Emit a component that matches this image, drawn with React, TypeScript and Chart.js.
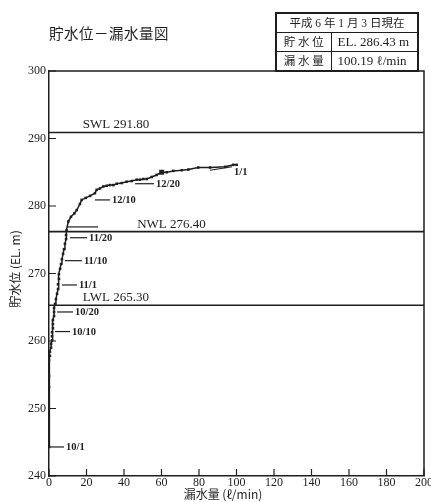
import React, { useEffect, useRef } from 'react';
import { Chart, registerables } from 'chart.js';
Chart.register(...registerables);

// ---- data ----
const leakage = [
  0, 0, 0, 0, 0.5, 0.5, 1.1, 1.1, 1.6, 1.6, 1.6, 2.1, 2.1, 2.1, 2.7, 2.7, 2.7, 3.2, 3.7, 4.3,
  4.8, 4.8, 5.3, 5.3, 5.9, 6.4, 6.9, 7.5, 8.0, 8.5, 9.1, 9.1,
  9.4, 10.3, 11.7, 13.5, 14.8, 16.5, 17.4, 19.6, 21.9, 24.5, 25.4, 27.2, 29.0, 30.8, 32.5, 34.3,
  36.1, 38.8, 41.4, 44.1, 46.8, 48.5, 50.3, 52.1, 54.8, 57.4, 60.1, 62.8, 66.3, 70.8, 74.3, 79.6,
  85.9, 93.9, 98.3, 100.1,
];
const waterLevel = [
  244.3, 253.2, 254.8, 257.2, 257.8, 258.4, 259.0, 259.6, 260.1, 260.7, 261.3, 261.9, 262.5, 263.1, 263.7, 264.3, 264.9, 265.5, 266.2, 267.0,
  267.7, 268.4, 269.2, 269.9, 270.7, 271.4, 272.1, 272.9, 273.6, 274.4, 275.1, 275.7,
  276.4, 277.7, 278.4, 278.9, 279.4, 280.3, 280.9, 281.2, 281.5, 281.9, 282.4, 282.6, 282.9, 283.0, 283.1, 283.1,
  283.3, 283.4, 283.6, 283.7, 283.9, 283.9, 284.0, 284.0, 284.3, 284.6, 285.0, 285.0, 285.2, 285.3, 285.4, 285.7,
  285.7, 285.8, 286.1, 286.1,
];
const highlightIndex = 58;

const refNames = ['SWL 291.80', 'NWL 276.40', 'LWL 265.30'];
const refLevels = [290.9, 276.2, 265.3];
const refLabelX = [18, 47, 18];

const dateLabels = ['10/1', '10/10', '10/20', '11/1', '11/10', '11/20', '', '12/10', '12/20', '1/1'];
const dateX = [0, 3.2, 4.3, 6.9, 8.5, 11.2, 9.6, 24.5, 45.9, 85.9];
const dateY = [244.3, 261.4, 264.3, 268.3, 271.9, 275.3, 276.9, 280.9, 283.3, 285.3];

const xTicks = [0, 20, 40, 60, 80, 100, 120, 140, 160, 180, 200];
const yTicks = [240, 250, 260, 270, 280, 290, 300];

const title = '貯水位－漏水量図';
const xTitle = '漏水量 (ℓ/min)';
const yTitle = '貯水位 (EL. m)';
const infoDate = '平成 6 年 1 月 3 日現在';
const infoRows = [
  ['貯 水 位', 'EL. 286.43 m'],
  ['漏 水 量', '100.19 ℓ/min'],
];

const INK = '#1e1e1e';
const SERIF = "'Liberation Serif', 'Noto Sans CJK JP', serif";
const CJK = "'Noto Sans CJK JP', 'Liberation Serif', sans-serif";

const leaderLen = [15, 15, 16, 15, 17, 17, 31, 15, 19, 22];

const overlay = {
  id: 'overlay',
  afterDatasetsDraw(chart: any) {
    const { ctx, chartArea: a, scales } = chart;
    const x = scales.x, y = scales.y;
    ctx.save();
    ctx.strokeStyle = INK;
    ctx.fillStyle = INK;
    // frame top and right
    ctx.lineWidth = 1.5;
    ctx.beginPath();
    ctx.moveTo(a.left, a.top);
    ctx.lineTo(a.right, a.top);
    ctx.lineTo(a.right, a.bottom);
    ctx.stroke();
    // inner ticks
    ctx.lineWidth = 1.2;
    ctx.beginPath();
    for (const v of yTicks) {
      const py = y.getPixelForValue(v);
      ctx.moveTo(a.left, py);
      ctx.lineTo(a.left + 7, py);
    }
    for (const v of xTicks) {
      const px = x.getPixelForValue(v);
      ctx.moveTo(px, a.bottom);
      ctx.lineTo(px, a.bottom - 7);
    }
    ctx.stroke();
    // reference labels
    ctx.font = `13px ${SERIF}`;
    ctx.textBaseline = 'alphabetic';
    ctx.textAlign = 'left';
    refNames.forEach((t, i) => {
      ctx.fillText(t, x.getPixelForValue(refLabelX[i]), y.getPixelForValue(refLevels[i]) - 4);
    });
    // date labels
    ctx.font = `bold 10.5px ${SERIF}`;
    ctx.textBaseline = 'middle';
    ctx.lineWidth = 1.2;
    dateLabels.forEach((t, i) => {
      const px = x.getPixelForValue(dateX[i]);
      const py = y.getPixelForValue(dateY[i]);
      const isLast = i === dateLabels.length - 1;
      const ex = px + leaderLen[i];
      const ey = isLast ? py - 3.5 : py;
      ctx.beginPath();
      ctx.moveTo(px, py);
      ctx.lineTo(ex, ey);
      ctx.stroke();
      if (t) ctx.fillText(t, ex + 2, isLast ? py + 2 : py + 0.5);
    });
    // axis titles
    ctx.font = `12px ${CJK}`;
    ctx.textAlign = 'center';
    ctx.textBaseline = 'middle';
    ctx.fillText(xTitle, 223, 494);
    ctx.translate(15, 269);
    ctx.rotate(-Math.PI / 2);
    ctx.fillText(yTitle, 0, 0);
    ctx.restore();
  },
};

export default function App() {
  const ref = useRef<HTMLCanvasElement>(null);
  useEffect(() => {
    const chart = new Chart(ref.current!, {
      type: 'line',
      data: {
        datasets: [
          {
            data: leakage.map((v, i) => ({ x: v, y: waterLevel[i] })),
            borderColor: INK,
            backgroundColor: INK,
            borderWidth: 1.5,
            pointStyle: 'rect',
            pointRadius: (c: any) => (c.dataIndex === highlightIndex ? 3.5 : 1.8),
            pointBackgroundColor: INK,
            pointBorderWidth: 0,
            tension: 0,
          },
          ...refLevels.map((v) => ({
            data: [{ x: 0, y: v }, { x: 200, y: v }],
            borderColor: INK,
            borderWidth: 1.6,
            pointRadius: 0,
          })),
        ],
      },
      options: {
        responsive: false,
        animation: false,
        events: [],
        layout: { padding: { top: 71, right: 7, left: 0, bottom: 0 } },
        plugins: { legend: { display: false }, tooltip: { enabled: false }, title: { display: false } },
        scales: {
          x: {
            type: 'linear',
            min: 0,
            max: 200,
            afterFit: (s: any) => { s.height = 26; s.paddingLeft = 0; s.paddingRight = 0; },
            afterBuildTicks: (s: any) => { s.ticks = xTicks.map((v) => ({ value: v })); },
            grid: { display: false, drawTicks: false },
            border: { display: true, color: INK, width: 1.5 },
            ticks: { color: INK, font: { family: SERIF, size: 12 }, padding: 0, maxRotation: 0, autoSkip: false },
          },
          y: {
            type: 'linear',
            min: 240,
            max: 300,
            afterFit: (s: any) => { s.width = 49; s.paddingTop = 0; s.paddingBottom = 0; },
            afterBuildTicks: (s: any) => { s.ticks = yTicks.map((v) => ({ value: v })); },
            grid: { display: false, drawTicks: false },
            border: { display: true, color: INK, width: 1.5 },
            ticks: { color: INK, font: { family: SERIF, size: 12 }, padding: 3, autoSkip: false },
          },
        },
      },
      plugins: [overlay],
    } as any);
    return () => chart.destroy();
  }, []);

  const cell: React.CSSProperties = { border: `1px solid ${INK}`, padding: 0, height: 18, lineHeight: '18px', whiteSpace: 'nowrap', overflow: 'hidden' };
  return (
    <div style={{ position: 'absolute', left: 0, top: 0, width: 431, height: 502, background: '#fff', color: INK }}>
      <canvas ref={ref} width={431} height={502} style={{ position: 'absolute', left: 0, top: 0 }} />
      <div style={{ position: 'absolute', left: 49, top: 23, fontFamily: CJK, fontSize: 14.5, lineHeight: '20px', letterSpacing: 0.5 }}>{title}</div>
      <table style={{ position: 'absolute', left: 275, top: 12, width: 142, borderCollapse: 'collapse', border: `2px solid ${INK}`, fontFamily: SERIF, fontSize: 12, tableLayout: 'fixed' }}>
        <colgroup>
          <col style={{ width: 55 }} />
          <col style={{ width: 87 }} />
        </colgroup>
        <tbody>
          <tr>
            <td colSpan={2} style={{ ...cell, textAlign: 'center', fontSize: 11.5 }}>{infoDate}</td>
          </tr>
          {infoRows.map((r, i) => (
            <tr key={i}>
              <td style={{ ...cell, textAlign: 'center', fontSize: 11.5 }}>{r[0]}</td>
              <td style={{ ...cell, paddingLeft: 6, fontSize: 13 }}>{r[1]}</td>
            </tr>
          ))}
        </tbody>
      </table>
    </div>
  );
}
